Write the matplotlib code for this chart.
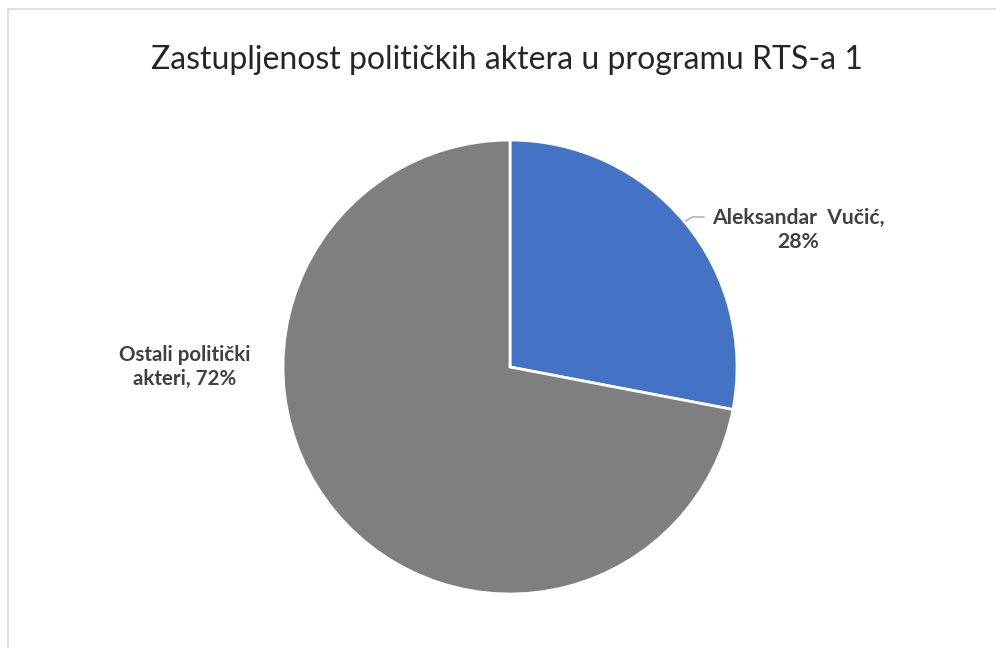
import matplotlib
matplotlib.use('Agg')
import matplotlib.pyplot as plt
from matplotlib.patches import Rectangle

plt.rcParams['font.family'] = ['Lato', 'DejaVu Sans']

title = 'Zastupljenost političkih aktera u programu RTS-a 1'
labels = ['Aleksandar  Vučić,', 'Ostali politički\nakteri,']
shares = [28, 72]
colors = ['#4472C4', '#7F7F7F']

fig = plt.figure(figsize=(9.96, 6.48), dpi=100)
W, H = 996, 648

# chart frame
fig.patches.append(Rectangle((8 / W, -0.01), 1.0, 1 - 9 / H + 0.01,
                             transform=fig.transFigure, fill=False,
                             edgecolor='#D9D9D9', linewidth=1.2))

cx, cy, r = 510, 367, 227
ax = fig.add_axes([(cx - r) / W, (H - cy - r) / H, 2 * r / W, 2 * r / H])
ax.pie(shares, colors=colors, startangle=90, counterclock=False, radius=1,
       wedgeprops=dict(edgecolor='white', linewidth=2))
ax.set_xlim(-1, 1)
ax.set_ylim(-1, 1)
ax.set_aspect('equal')
ax.axis('off')

fig.text(507 / W, 1 - 60 / H, title, ha='center', va='center',
         fontsize=23, color='#262626')

lab_col = '#404040'
fig.text(798 / W, 1 - 230 / H, labels[0] + '\n' + str(shares[0]) + '%',
         ha='center', va='center', fontsize=15.2, fontweight='bold',
         color=lab_col, linespacing=1.3)
fig.text(185 / W, 1 - 367 / H, labels[1] + ' ' + str(shares[1]) + '%',
         ha='center', va='center', fontsize=14.8, fontweight='bold',
         color=lab_col, linespacing=1.3)

# leader line for the blue slice label
fig.add_artist(plt.Line2D([686 / W, 692 / W, 704 / W],
                          [1 - 221 / H, 1 - 217 / H, 1 - 217 / H],
                          color='#A6A6A6', linewidth=1))

fig.savefig('out.png', dpi=100, facecolor='white')
